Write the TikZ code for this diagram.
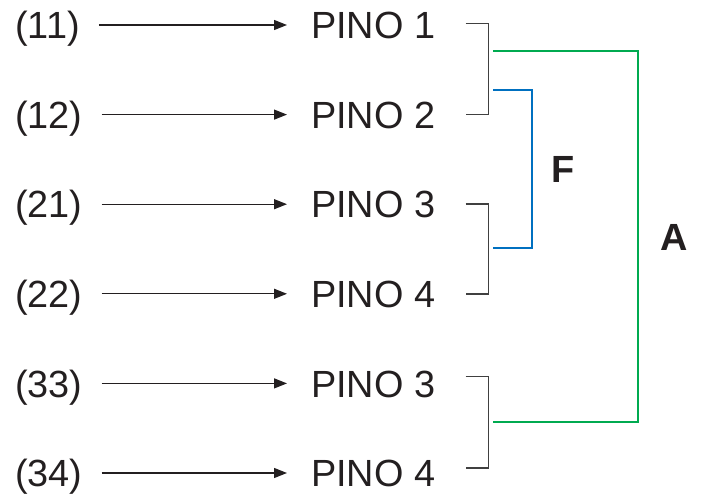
\documentclass[tikz,border=0pt]{standalone}
\usepackage{fontspec}
\setmainfont{Liberation Sans}
\usetikzlibrary{arrows.meta}
\definecolor{pinogreen}{RGB}{0,170,80}
\definecolor{pinoblue}{RGB}{0,112,192}
\definecolor{brkgray}{RGB}{64,64,64}
\definecolor{txtblack}{RGB}{35,31,32}

\begin{document}
\begin{tikzpicture}[x=1bp,y=-1bp,
  lbl/.style={inner sep=0,anchor=west,text=txtblack,font=\fontsize{38}{40}\selectfont,text height=27.2bp,text depth=0pt},
  grpname/.style={inner sep=0,text=txtblack,font=\fontsize{38}{40}\selectfont\bfseries},
  arr/.style={line width=1.3bp,txtblack,-{Triangle[length=13bp,width=10bp]},shorten <=19bp,shorten >=24bp},
  brk/.style={line width=1.4bp,brkgray},
  grp/.style={line width=2.4bp}]
\useasboundingbox (0,0) rectangle (703,498);
% left codes and pins
\node[lbl] (c11) at (15,25) {(11)};
\node[lbl] (p1) at (311,25) {PINO 1};
\draw[arr] (c11.east) -- (p1.west);
\node[lbl] (c12) at (15,114.6) {(12)};
\node[lbl] (p2) at (311,114.6) {PINO 2};
\draw[arr] (c12.east) -- (p2.west);
\node[lbl] (c21) at (15,204.2) {(21)};
\node[lbl] (p3) at (311,204.2) {PINO 3};
\draw[arr] (c21.east) -- (p3.west);
\node[lbl] (c22) at (15,293.8) {(22)};
\node[lbl] (p4) at (311,293.8) {PINO 4};
\draw[arr] (c22.east) -- (p4.west);
\node[lbl] (c33) at (15,383.4) {(33)};
\node[lbl] (p5) at (311,383.4) {PINO 3};
\draw[arr] (c33.east) -- (p5.west);
\node[lbl] (c34) at (15,473) {(34)};
\node[lbl] (p6) at (311,473) {PINO 4};
\draw[arr] (c34.east) -- (p6.west);
% brackets
\draw[brk] ([xshift=30bp,yshift=1.5bp]p1.east) -- ++(23bp,0) |- ([xshift=30bp]p2.east);
\draw[brk] ([xshift=30bp]p3.east) -- ++(23bp,0) |- ([xshift=30bp]p4.east);
\draw[brk] ([xshift=30bp,yshift=7bp]p5.east) -- ++(23bp,0) |- ([xshift=30bp,yshift=5bp]p6.east);
% groups
\coordinate (fa) at (493,90);
\coordinate (fb) at (493,248);
\coordinate (aa) at (493,51);
\coordinate (ab) at (493,422);
\draw[grp,pinoblue] (fa) -- (532,90) -- (532,248) -- (fb);
\draw[grp,pinogreen] (aa) -- (638,51) -- (638,422) -- (ab);
\node[grpname] (f) at (563,169) {F};
\node[grpname] (a) at (674,237) {A};
\end{tikzpicture}
\end{document}
